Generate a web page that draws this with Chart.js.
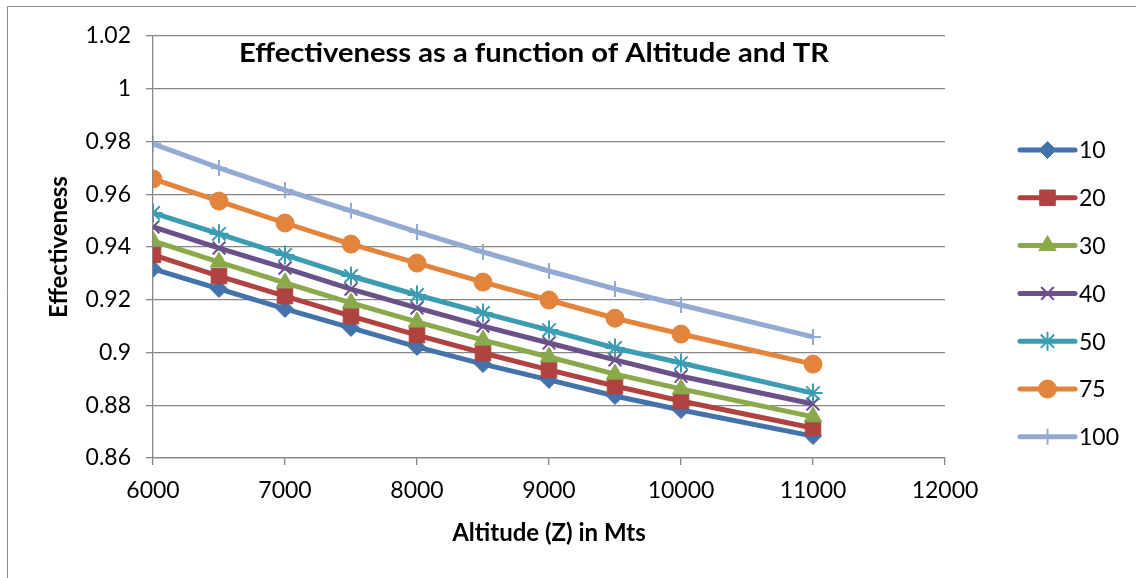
<!DOCTYPE html>
<html>
<head>
<meta charset="utf-8">
<script src="https://cdn.jsdelivr.net/npm/chart.js@4.4.0/dist/chart.umd.min.js"></script>
<style>
  html, body { margin: 0; padding: 0; background: #ffffff; }
  #wrap { width: 1136px; height: 578px; position: relative; }
</style>
</head>
<body>
<div id="wrap"><canvas id="c" width="1136" height="578"></canvas></div>
<script>
// ---- Data ----
const altitudes = [6000, 6500, 7000, 7500, 8000, 8500, 9000, 9500, 10000, 11000];
const seriesNames = ['10', '20', '30', '40', '50', '75', '100'];
const tr10  = [0.9317, 0.9241, 0.9165, 0.9093, 0.9021, 0.8956, 0.8896, 0.8835, 0.8782, 0.8683];
const tr20  = [0.9370, 0.9290, 0.9214, 0.9138, 0.9066, 0.8998, 0.8934, 0.8873, 0.8816, 0.8714];
const tr30  = [0.9423, 0.9343, 0.9264, 0.9188, 0.9116, 0.9047, 0.8983, 0.8918, 0.8862, 0.8756];
const tr40  = [0.9476, 0.9396, 0.9320, 0.9240, 0.9169, 0.9100, 0.9036, 0.8972, 0.8910, 0.8805];
const tr50  = [0.9529, 0.9450, 0.9370, 0.9290, 0.9218, 0.9150, 0.9085, 0.9017, 0.8960, 0.8846];
const tr75  = [0.9658, 0.9574, 0.9491, 0.9411, 0.9339, 0.9267, 0.9199, 0.9130, 0.9070, 0.8956];
const tr100 = [0.9791, 0.9700, 0.9616, 0.9537, 0.9457, 0.9381, 0.9309, 0.9241, 0.9180, 0.9059];
const seriesValues = [tr10, tr20, tr30, tr40, tr50, tr75, tr100];
const yTicks = [0.86, 0.88, 0.9, 0.92, 0.94, 0.96, 0.98, 1, 1.02];
const xTicks = [6000, 7000, 8000, 9000, 10000, 11000, 12000];
const chartTitle = 'Effectiveness as a function of Altitude and TR';
const xTitle = 'Altitude (Z) in Mts';
const yTitle = 'Effectiveness';

// ---- Styles ----
const colors = ['#4472aa', '#b0423f', '#8aa94a', '#6b5189', '#3b9cb2', '#e2843b', '#93abd2'];
const pointStyles = ['rectRot', 'rect', 'triangle', 'crossRot', 'star', 'circle', 'cross'];
const pointRadii = [8.5, 11, 10, 9, 9.5, 9, 8];
const FONT = 'Lato, Carlito, "Open Sans", sans-serif';
const GRID = '#878787';

const datasets = seriesNames.map((name, i) => ({
  label: name,
  data: altitudes.map((x, j) => ({ x: x, y: seriesValues[i][j] })),
  borderColor: colors[i],
  backgroundColor: colors[i],
  pointBackgroundColor: colors[i],
  pointBorderColor: colors[i],
  borderWidth: 5,
  order: seriesNames.length - i,
  pointStyle: pointStyles[i],
  pointRadius: pointRadii[i],
  pointBorderWidth: (pointStyles[i] === 'cross' || pointStyles[i] === 'crossRot' || pointStyles[i] === 'star') ? 2 : 1,
  tension: 0,
  fill: false
}));

const framePlugin = {
  id: 'frame',
  beforeDraw(chart) {
    const ctx = chart.ctx;
    ctx.save();
    ctx.fillStyle = '#ffffff';
    ctx.fillRect(0, 0, chart.width, chart.height);
    ctx.strokeStyle = '#8c8c8c';
    ctx.lineWidth = 1;
    ctx.beginPath();
    ctx.moveTo(7.5, chart.height + 5);
    ctx.lineTo(7.5, 6.5);
    ctx.lineTo(chart.width + 5, 6.5);
    ctx.stroke();
    ctx.restore();
  },
  afterDraw(chart) {
    const ctx = chart.ctx;
    ctx.save();
    // Title inside plot area
    ctx.fillStyle = '#000000';
    ctx.font = 'bold 27px ' + FONT;
    ctx.textAlign = 'center';
    ctx.textBaseline = 'alphabetic';
    ctx.save();
    ctx.translate(534, 62);
    ctx.scale(1.08, 1);
    ctx.fillText(chartTitle, 0, 0);
    ctx.restore();
    // Legend
    const lx0 = 1020, lx1 = 1075, ly0 = 150, ldy = 47.8;
    chart.data.datasets.forEach((ds, i) => {
      const y = ly0 + i * ldy;
      ctx.strokeStyle = ds.borderColor;
      ctx.lineWidth = 5;
      ctx.lineCap = 'round';
      ctx.beginPath();
      ctx.moveTo(lx0, y);
      ctx.lineTo(lx1, y);
      ctx.stroke();
      ctx.save();
      ctx.lineCap = 'butt';
      ctx.fillStyle = ds.borderColor;
      ctx.strokeStyle = ds.borderColor;
      ctx.lineWidth = ds.pointBorderWidth;
      Chart.helpers.drawPoint(ctx, {
        pointStyle: ds.pointStyle,
        radius: ds.pointRadius,
        borderWidth: ds.pointBorderWidth,
        rotation: 0
      }, (lx0 + lx1) / 2, y);
      ctx.restore();
      ctx.fillStyle = '#000000';
      ctx.font = '23px ' + FONT;
      ctx.textAlign = 'left';
      ctx.textBaseline = 'middle';
      ctx.fillText(ds.label, lx1 + 4, y + 1);
    });
    ctx.restore();
  }
};

new Chart(document.getElementById('c'), {
  type: 'line',
  data: { datasets: datasets },
  options: {
    responsive: false,
    animation: false,
    devicePixelRatio: 1,
    layout: { padding: { top: 36, right: 191, bottom: 0, left: 0 } },
    plugins: {
      legend: { display: false },
      title: { display: false },
      tooltip: { enabled: false }
    },
    scales: {
      x: {
        type: 'linear',
        min: 6000,
        max: 12000,
        afterBuildTicks(scale) { scale.ticks = xTicks.map(v => ({ value: v })); },
        afterFit(scale) { scale.height = 120; },
        ticks: {
          color: '#000000',
          font: { family: FONT, size: 23 },
          padding: 12,
          maxRotation: 0,
          callback: (v) => String(v)
        },
        grid: {
          display: true,
          drawOnChartArea: false,
          drawTicks: true,
          tickLength: 7,
          color: GRID,
          lineWidth: 1.3
        },
        border: { display: true, color: GRID, width: 1.3 },
        title: {
          display: true,
          text: xTitle,
          color: '#000000',
          font: { family: FONT, size: 24, weight: 'bold', lineHeight: 1.2 },
          padding: { top: 0, bottom: 30 }
        }
      },
      y: {
        type: 'linear',
        min: 0.86,
        max: 1.02,
        afterBuildTicks(scale) { scale.ticks = yTicks.map(v => ({ value: v })); },
        afterFit(scale) { scale.width = 153; },
        ticks: {
          color: '#000000',
          font: { family: FONT, size: 23 },
          padding: 15,
          callback: (v) => String(+v.toFixed(2))
        },
        grid: {
          display: true,
          drawOnChartArea: true,
          drawTicks: true,
          tickLength: 7,
          color: GRID,
          lineWidth: 1.3
        },
        border: { display: true, color: GRID, width: 1.3 },
        title: {
          display: true,
          text: yTitle,
          color: '#000000',
          font: { family: FONT, size: 24, weight: 'bold', lineHeight: 1.2 },
          padding: { top: 45, bottom: 0 }
        }
      }
    }
  },
  plugins: [framePlugin]
});
</script>
</body>
</html>
